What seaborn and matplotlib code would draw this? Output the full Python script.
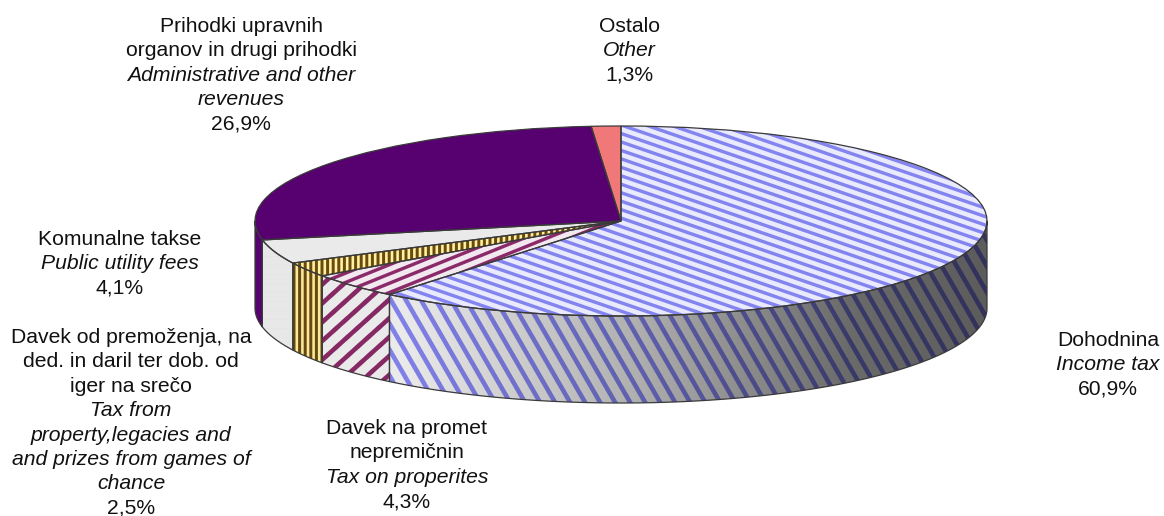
import numpy as np
import matplotlib
matplotlib.use("Agg")
import matplotlib.pyplot as plt
import seaborn as sns
from matplotlib.colors import to_rgb

W, H = 1164, 516

# shares clockwise from 12 o'clock
slice_names = ["Dohodnina", "Promet", "Premozenje", "Komunalne", "Prihodki", "Ostalo"]
shares = [60.9, 4.3, 2.5, 4.1, 26.9, 1.3]
stripe_colors = ["#8484F0", "#8B2A68", "#6B4A10", "#EAEAEA", "#570070", "#F07878"]
back_colors = ["#EAEAFF", "#F2E8F0", "#FFF2A0", "#EAEAEA", "#570070", "#F07878"]

label_lines = [
    ["Dohodnina", "Income tax", "60,9%"],
    ["Davek na promet", "nepremičnin", "Tax on properites", "4,3%"],
    ["Davek od premoženja, na", "ded. in daril ter dob. od", "iger na srečo", "Tax from",
     "property,legacies and", "and prizes from games of", "chance", "2,5%"],
    ["Komunalne takse", "Public utility fees", "4,1%"],
    ["Prihodki upravnih", "organov in drugi prihodki", "Administrative and other", "revenues", "26,9%"],
    ["Ostalo", "Other", "1,3%"],
]
italic_lines = [[1], [2], [3, 4, 5, 6], [1], [2, 3], [1]]
label_x = [1108, 407, 131, 120, 241, 629]
label_y = [346, 434, 343, 245, 32, 32]

sns.set_theme(style="white")
plt.rcParams["font.family"] = ["Liberation Sans", "DejaVu Sans"]
palette = sns.color_palette(stripe_colors)
back_palette = sns.color_palette(back_colors)

# ellipse of the top face, in pixels
cx, cy, rx, ry, depth = 621, 221, 366, 95, 87
xlim = ((0 - cx) / rx, (W - cx) / rx)
ylim = ((cy - H) / ry, cy / ry)
drop = depth / ry
extent = (xlim[0], xlim[1], ylim[0], ylim[1])

xx, yy = np.meshgrid(np.arange(W) + 0.5, np.arange(H) + 0.5)


def stripes(angle, period, width, fg, bg):
    a = np.radians(angle)
    t = (-xx * np.sin(a) + yy * np.cos(a)) % period
    dist = np.abs(t - period / 2)
    cover = np.clip(width / 2 - dist + 0.5, 0, 1)[..., None]
    return cover * np.array(to_rgb(fg)) + (1 - cover) * np.array(to_rgb(bg))


# side shading runs from light on the left to dark on the right
shade = np.interp(xx, [255, 400, 640, 850, 987], [0.97, 0.97, 0.72, 0.44, 0.38])[..., None]

top_pattern = [(19, 8.0, 3.4), (-22, 8.6, 3.4), (90, 5.6, 3.0), (0, 9, 0), (0, 9, 0), (0, 9, 0)]
side_pattern = [(60, 13.0, 4.6), (-42, 14.0, 4.6), (90, 5.6, 3.0), (0, 9, 0), (0, 9, 0), (0, 9, 0)]
side_backs = ["#F2F2F2", "#F2F2F2", "#FFF2A0", "#F0F0F0", "#570070", "#F07878"]

fig = plt.figure(figsize=(W / 100, H / 100), dpi=100)
ax = fig.add_axes([0, 0, 1, 1])

wedges, _ = ax.pie(shares, startangle=90, counterclock=False, radius=1,
                   wedgeprops={"facecolor": "none", "edgecolor": "#3A3A3A", "linewidth": 0.9, "zorder": 5})

bounds = np.cumsum([0] + shares) / sum(shares) * 360
for i, wedge in enumerate(wedges):
    # top face
    ang, per, wid = top_pattern[i]
    img = stripes(ang, per, wid, palette[i], back_palette[i])
    im = ax.imshow(img, extent=extent, origin="upper", aspect="auto", interpolation="nearest", zorder=2)
    im.set_clip_path(wedge)

    # outer wall, only the front half of the disc shows
    start, end = max(bounds[i], 90), min(bounds[i + 1], 270)
    if start >= end:
        continue
    theta = np.radians(np.linspace(start, end, 200))
    wall = ax.fill_between(np.sin(theta), np.cos(theta), np.cos(theta) - drop,
                           facecolor="none", edgecolor="#3A3A3A", linewidth=0.9, zorder=4)
    ang, per, wid = side_pattern[i]
    img = stripes(ang, per, wid, palette[i], side_backs[i])
    if i < 4:
        img = img * shade
    im = ax.imshow(np.clip(img, 0, 1), extent=extent, origin="upper", aspect="auto",
                   interpolation="nearest", zorder=2)
    im.set_clip_path(wall.get_paths()[0], transform=ax.transData)

ax.set_aspect("auto")
ax.set_xlim(*xlim)
ax.set_ylim(*ylim)
ax.axis("off")

line_step = 24.4
for lines, italics, x, y in zip(label_lines, italic_lines, label_x, label_y):
    for n, line in enumerate(lines):
        fig.text(x / W, 1 - (y + n * line_step) / H, line, ha="center", va="baseline",
                 fontsize=15.2, color="#111111", style="italic" if n in italics else "normal")

fig.savefig("out.png", dpi=100)
